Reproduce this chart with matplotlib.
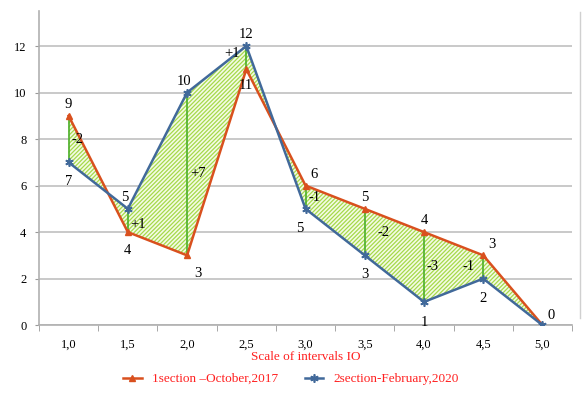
import numpy as np
import matplotlib.pyplot as plt

plt.rcParams['font.family'] = ['Liberation Serif', 'DejaVu Serif']
plt.rcParams['hatch.linewidth'] = 0.9

# scale of intervals and values for the two sections
intervals = ['1,0', '1,5', '2,0', '2,5', '3,0', '3,5', '4,0', '4,5', '5,0']
oct_2017 = [9, 4, 3, 11, 6, 5, 4, 3, 0]
feb_2020 = [7, 5, 10, 12, 5, 3, 1, 2, 0]
diff_labels = ['-2', '+1', '+7', '+1', '-1', '-2', '-3', '-1']

# label offsets (points) for each value label
oct_offsets = [(0, 8), (0, -13), (8, -13), (0, -12), (6, 8), (0, 8), (0, 8), (6, 8), (6, 7)]
feb_offsets = [(0, -14), (-2, 8), (-2, 8), (0, 8), (-4, -14), (0, -14), (0, -15), (0, -14), (0, 0)]
diff_pos = [(2, 0), (2, -3), (2, 0), (-16, 3), (2, 0), (9, 0), (2, 0), (-15, 0)]

red = '#d9501e'
blue = '#41699a'
green = '#4caf2a'
text_red = '#ff2020'

x = np.arange(len(intervals))
a = np.array(oct_2017, dtype=float)
b = np.array(feb_2020, dtype=float)

fig = plt.figure(figsize=(5.82, 3.97), dpi=100)
ax = fig.add_axes([0.067, 0.181, 0.916, 0.791])

# hatched area between the two lines
ax.fill_between(x, a, b, facecolor='#f4fbe6', edgecolor='#a6d94a', hatch='////////', linewidth=0, zorder=1)

# vertical difference lines
for i in range(len(x) - 1):
    ax.plot([x[i], x[i]], [a[i], b[i]], color=green, lw=1.2, zorder=2)
    dx, dy = diff_pos[i]
    ax.annotate(diff_labels[i], (x[i], (a[i] + b[i]) / 2), xytext=(dx, dy),
                textcoords='offset points', fontsize=10.5, va='center', ha='left', zorder=5)

l1, = ax.plot(x, a, color=red, lw=1.8, marker='^', ms=5, mfc=red, mec=red, zorder=3,
              label='1section \u2013October,2017')
l2, = ax.plot(x, b, color=blue, lw=1.8, marker=(6, 2, 0), ms=6, mec=blue, mew=1.2, zorder=4,
              label='2section-February,2020')

for i in range(len(x)):
    ax.annotate(str(oct_2017[i]), (x[i], a[i]), xytext=oct_offsets[i], textcoords='offset points',
                fontsize=10.5, ha='center', va='center')
    if i < len(x) - 1:
        ax.annotate(str(feb_2020[i]), (x[i], b[i]), xytext=feb_offsets[i], textcoords='offset points',
                    fontsize=10.5, ha='center', va='center')

ax.set_xlim(-0.5, len(x) - 0.5)
ax.set_ylim(0, 13.5)
ax.set_yticks(range(0, 13, 2))
ax.set_xticks(x)
ax.set_xticklabels(intervals, fontsize=9)
ax.set_xticks(np.arange(-0.5, len(x), 1), minor=True)
ax.tick_params(axis='x', which='major', length=0, pad=10)
ax.tick_params(axis='x', which='minor', length=4, color='#999999', direction='out')
ax.tick_params(axis='y', length=3, color='#999999', labelsize=9, direction='out', pad=6)
ax.yaxis.grid(True, color='#c0c0c0', lw=1.2)
ax.set_axisbelow(True)
for s in ['top', 'right']:
    ax.spines[s].set_visible(False)
ax.spines['left'].set_color('#b0b0b0')
ax.spines['bottom'].set_color('#b0b0b0')
ax.spines['left'].set_linewidth(1.2)
ax.spines['bottom'].set_linewidth(1.2)

ax.set_xlabel('Scale of intervals IO', color=text_red, fontsize=9.5, labelpad=0)

leg = fig.legend(handles=[l1, l2], loc='lower center', bbox_to_anchor=(0.5, 0.0), ncol=2,
                 frameon=False, fontsize=9.5, handlelength=1.4, columnspacing=2.0)
for t in leg.get_texts():
    t.set_color(text_red)

fig.add_artist(plt.Line2D([0.997, 0.997], [0.2, 0.97], color='#d0d0d0', lw=1))

fig.savefig('out.png', dpi=100)
